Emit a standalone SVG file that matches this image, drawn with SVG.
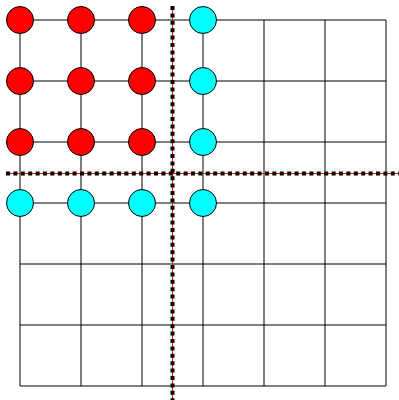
<svg xmlns="http://www.w3.org/2000/svg" width="399" height="400" viewBox="0 0 399 400">
<style>
.grid line{stroke:#000;stroke-width:1}
.red{fill:#f00;stroke:#000;stroke-width:1}
.cyan{fill:#0ff;stroke:#000;stroke-width:1}
.cutR{stroke:#f00;stroke-width:1}
.cutB{stroke:#000;stroke-width:4;stroke-dasharray:4 3.4}
</style>
<rect width="399" height="400" fill="#fff"/>
<g id="connectors" class="grid">
<line x1="20" y1="20" x2="386" y2="20"/>
<line x1="20" y1="81" x2="386" y2="81"/>
<line x1="20" y1="142" x2="386" y2="142"/>
<line x1="20" y1="203" x2="386" y2="203"/>
<line x1="20" y1="264" x2="386" y2="264"/>
<line x1="20" y1="325" x2="386" y2="325"/>
<line x1="20" y1="386" x2="386" y2="386"/>
<line x1="20" y1="20" x2="20" y2="386"/>
<line x1="81" y1="20" x2="81" y2="386"/>
<line x1="142" y1="20" x2="142" y2="386"/>
<line x1="203" y1="20" x2="203" y2="386"/>
<line x1="264" y1="20" x2="264" y2="386"/>
<line x1="325" y1="20" x2="325" y2="386"/>
<line x1="386" y1="20" x2="386" y2="386"/>
</g>
<g id="nodes">
<g id="n00"><circle class="red" cx="20" cy="20" r="13.5"/></g>
<g id="n01"><circle class="red" cx="81" cy="20" r="13.5"/></g>
<g id="n02"><circle class="red" cx="142" cy="20" r="13.5"/></g>
<g id="n03"><circle class="cyan" cx="203" cy="20" r="13.5"/></g>
<g id="n10"><circle class="red" cx="20" cy="81" r="13.5"/></g>
<g id="n11"><circle class="red" cx="81" cy="81" r="13.5"/></g>
<g id="n12"><circle class="red" cx="142" cy="81" r="13.5"/></g>
<g id="n13"><circle class="cyan" cx="203" cy="81" r="13.5"/></g>
<g id="n20"><circle class="red" cx="20" cy="142" r="13.5"/></g>
<g id="n21"><circle class="red" cx="81" cy="142" r="13.5"/></g>
<g id="n22"><circle class="red" cx="142" cy="142" r="13.5"/></g>
<g id="n23"><circle class="cyan" cx="203" cy="142" r="13.5"/></g>
<g id="n30"><circle class="cyan" cx="20" cy="203" r="13.5"/></g>
<g id="n31"><circle class="cyan" cx="81" cy="203" r="13.5"/></g>
<g id="n32"><circle class="cyan" cx="142" cy="203" r="13.5"/></g>
<g id="n33"><circle class="cyan" cx="203" cy="203" r="13.5"/></g>
</g>
<g id="cuts">
<line class="cutR" x1="172.5" y1="6" x2="172.5" y2="400"/>
<line class="cutB" x1="172.5" y1="6" x2="172.5" y2="400"/>
<line class="cutR" x1="6" y1="173.5" x2="399" y2="173.5"/>
<line class="cutB" x1="6" y1="173.5" x2="399" y2="173.5"/>
</g>
</svg>
